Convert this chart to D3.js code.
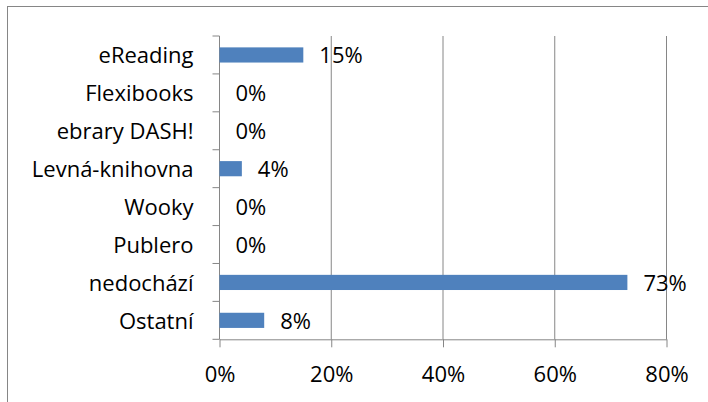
<!DOCTYPE html>
<html>
<head>
<meta charset="utf-8">
<script src="https://cdn.jsdelivr.net/npm/d3@7"></script>
<style>
  body { margin: 0; background: #fff; }
  svg text { font-family: "Open Sans", sans-serif; font-size: 22px; fill: #000; }
</style>
</head>
<body>
<div id="chart"></div>
<script>
const categories = ['eReading', 'Flexibooks', 'ebrary DASH!', 'Levná-knihovna', 'Wooky', 'Publero', 'nedochází', 'Ostatní'];
const values = [0.15, 0, 0, 0.04, 0, 0, 0.73, 0.08];
const xTicks = [0, 0.2, 0.4, 0.6, 0.8];

const W = 708, H = 402;
const margin = { top: 36, left: 219.5 };
const width = 447, height = 303.3;
const axisColor = '#868686';
const barColor = '#4f81bd';

const svg = d3.select('#chart').append('svg')
  .attr('width', W)
  .attr('height', H);

// chart border
svg.append('rect')
  .attr('x', 7.5).attr('y', 6.5)
  .attr('width', 740).attr('height', 440)
  .attr('fill', 'none')
  .attr('stroke', axisColor);

const g = svg.append('g')
  .attr('transform', `translate(${margin.left},${margin.top})`);

const x = d3.scaleLinear().domain([0, 0.8]).range([0, width]);
const y = d3.scaleBand().domain(categories).range([0, height])
  .paddingInner(0.6).paddingOuter(0.3);

// gridlines
g.append('g').attr('class', 'grid')
  .selectAll('line')
  .data(xTicks.slice(1))
  .join('line')
  .attr('x1', d => x(d)).attr('x2', d => x(d))
  .attr('y1', 0).attr('y2', height)
  .attr('stroke', axisColor);

// x axis
const xAxis = g.append('g')
  .attr('transform', `translate(0,${height})`)
  .call(d3.axisBottom(x).tickValues(xTicks).tickFormat(d3.format('.0%'))
    .tickSize(8).tickSizeOuter(0).tickPadding(19));
xAxis.selectAll('path, line').attr('stroke', axisColor);
xAxis.selectAll('text').attr('font-size', null).attr('font-family', null);

// y axis
const yAxis = g.append('g')
  .call(d3.axisLeft(y).tickSize(0).tickPadding(26));
yAxis.select('.domain').attr('stroke', axisColor).attr('d', `M0,0V${height}`);
yAxis.selectAll('text').attr('font-size', null).attr('font-family', null).attr('dy', '0.38em');

// category boundary ticks
const step = y.step();
g.append('g').selectAll('line')
  .data(d3.range(categories.length + 1))
  .join('line')
  .attr('x1', -7).attr('x2', 0)
  .attr('y1', i => i * step).attr('y2', i => i * step)
  .attr('stroke', axisColor);

// bars
const bar = g.append('g').selectAll('g.bar')
  .data(categories.map((c, i) => ({ c, v: values[i] })))
  .join('g')
  .attr('class', 'bar');

bar.append('rect')
  .attr('x', 0)
  .attr('y', d => y(d.c))
  .attr('width', d => x(d.v))
  .attr('height', y.bandwidth())
  .attr('fill', barColor);

bar.append('text')
  .attr('x', d => x(d.v) + 16)
  .attr('y', d => y(d.c) + y.bandwidth() / 2)
  .attr('dy', '0.38em')
  .text(d => d3.format('.0%')(d.v));
</script>
</body>
</html>
